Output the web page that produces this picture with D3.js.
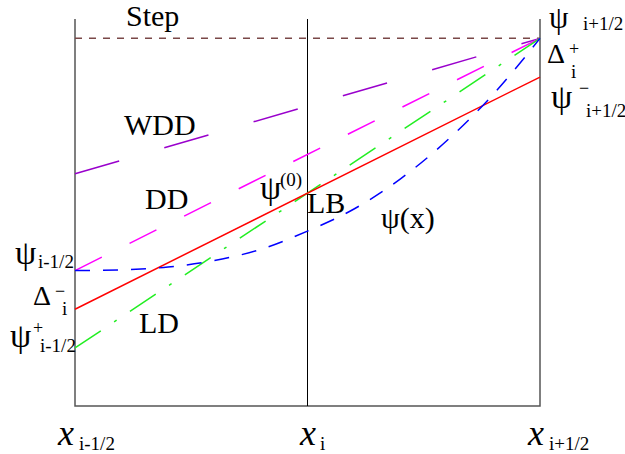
<!DOCTYPE html>
<meta charset="utf-8">
<title>Reconstruction schemes in one cell</title>
<style>
  body { margin: 0; background-color: white; }
  .frame { stroke: #555; stroke-width: 1.5px; fill: none; }
  .mid { stroke: #000; stroke-width: 1px; }
</style>
<svg width="625" height="454"></svg>
<script src="https://d3js.org/d3.v7.min.js"></script>
<script>
// cell: x_{i-1/2} = 0, x_i = 0.5, x_{i+1/2} = 1
var cellX = [0, 0.5, 1];
var edgeX = [0, 1];

// straight reconstructions, values at left and right cell edge
var stepValues = [9.5, 9.5];
var wddValues  = [6.0, 9.5];
var ddValues   = [3.5, 9.5];
var ldValues   = [1.5, 9.5];
var lbValues   = [2.5, 8.5];

var psiX      = [0, 0.1, 0.2, 0.3, 0.4, 0.5, 0.6, 0.7, 0.8, 0.9, 1];
var psiValues = [3.5, 3.52, 3.59, 3.76, 4.05, 4.52, 5.09, 5.87, 6.86, 8.06, 9.5];

var svg = d3.select("svg");
var x = d3.scaleLinear().domain([0, 1]).range([75, 540]);
var y = d3.scaleLinear().domain([0, 10]).range([406, 19]);

var line = d3.line()
    .x(function(d) { return x(d[0]); })
    .y(function(d) { return y(d[1]); });

function pairs(xs, ys) {
  return xs.map(function(v, i) { return [v, ys[i]]; });
}

// frame
svg.append("path").attr("class", "frame")
   .attr("d", "M" + x(0) + "," + y(10) + "V" + y(0) + "H" + x(1) + "V" + y(10));
svg.append("line").attr("class", "mid")
   .attr("x1", x(cellX[1])).attr("x2", x(cellX[1]))
   .attr("y1", y(10)).attr("y2", y(0));

var series = [
  { v: stepValues, color: "#7a4848", dash: "7,7" },
  { v: wddValues,  color: "#9900cc", dash: "46,47" },
  { v: ddValues,   color: "#ff00ff", dash: "30,31" },
  { v: ldValues,   color: "#22ee22", dash: "31,16,3,16" },
  { v: lbValues,   color: "#ff0000", dash: null }
];

series.forEach(function(s) {
  svg.append("path")
     .attr("d", line(pairs(edgeX, s.v)))
     .attr("fill", "none")
     .attr("stroke", s.color)
     .attr("stroke-width", 1.5)
     .attr("stroke-dasharray", s.dash);
});

svg.append("path")
   .attr("d", line.curve(d3.curveMonotoneX)(pairs(psiX, psiValues)))
   .attr("fill", "none")
   .attr("stroke", "#0000ff")
   .attr("stroke-width", 1.5)
   .attr("stroke-dasharray", "15,13");

// labels
function lab(tx, ty, s, size, italic) {
  svg.append("text").attr("x", tx).attr("y", ty)
     .attr("font-family", "'Liberation Serif', 'DejaVu Serif', serif")
     .attr("font-size", size)
     .attr("font-style", italic ? "italic" : "normal")
     .attr("fill", "#000")
     .text(s);
}

lab(126, 26, "Step", 30);
lab(124, 135, "WDD", 30);
lab(145, 209, "DD", 30);
lab(139, 333, "LD", 30);
lab(307, 213, "LB", 30);
lab(381, 228, "\u03c8(x)", 30);

// psi^(0)
lab(260, 199, "\u03c8", 34);
lab(280, 186, "(0)", 19);

// right edge
lab(549, 28, "\u03c8", 31);   lab(583, 30, "i+1/2", 19);
lab(547, 63, "\u0394", 28);   lab(569, 55, "+", 18);   lab(571, 78, "i", 19);
lab(551, 108, "\u03c8", 34);  lab(579, 94, "\u2212", 18); lab(586, 117, "i+1/2", 19);

// left edge
lab(15, 264, "\u03c8", 34);   lab(38, 268, "i-1/2", 19);
lab(33, 305, "\u0394", 28);   lab(55, 297, "\u2212", 18); lab(62, 315, "i", 19);
lab(10, 347, "\u03c8", 34);   lab(33, 334, "+", 18);   lab(40, 352, "i-1/2", 19);

// bottom
lab(58, 445, "x", 36, true);  lab(79, 450, "i-1/2", 19);
lab(300, 445, "x", 36, true); lab(320, 450, "i", 19);
lab(528, 445, "x", 36, true); lab(549, 450, "i+1/2", 19);
</script>
